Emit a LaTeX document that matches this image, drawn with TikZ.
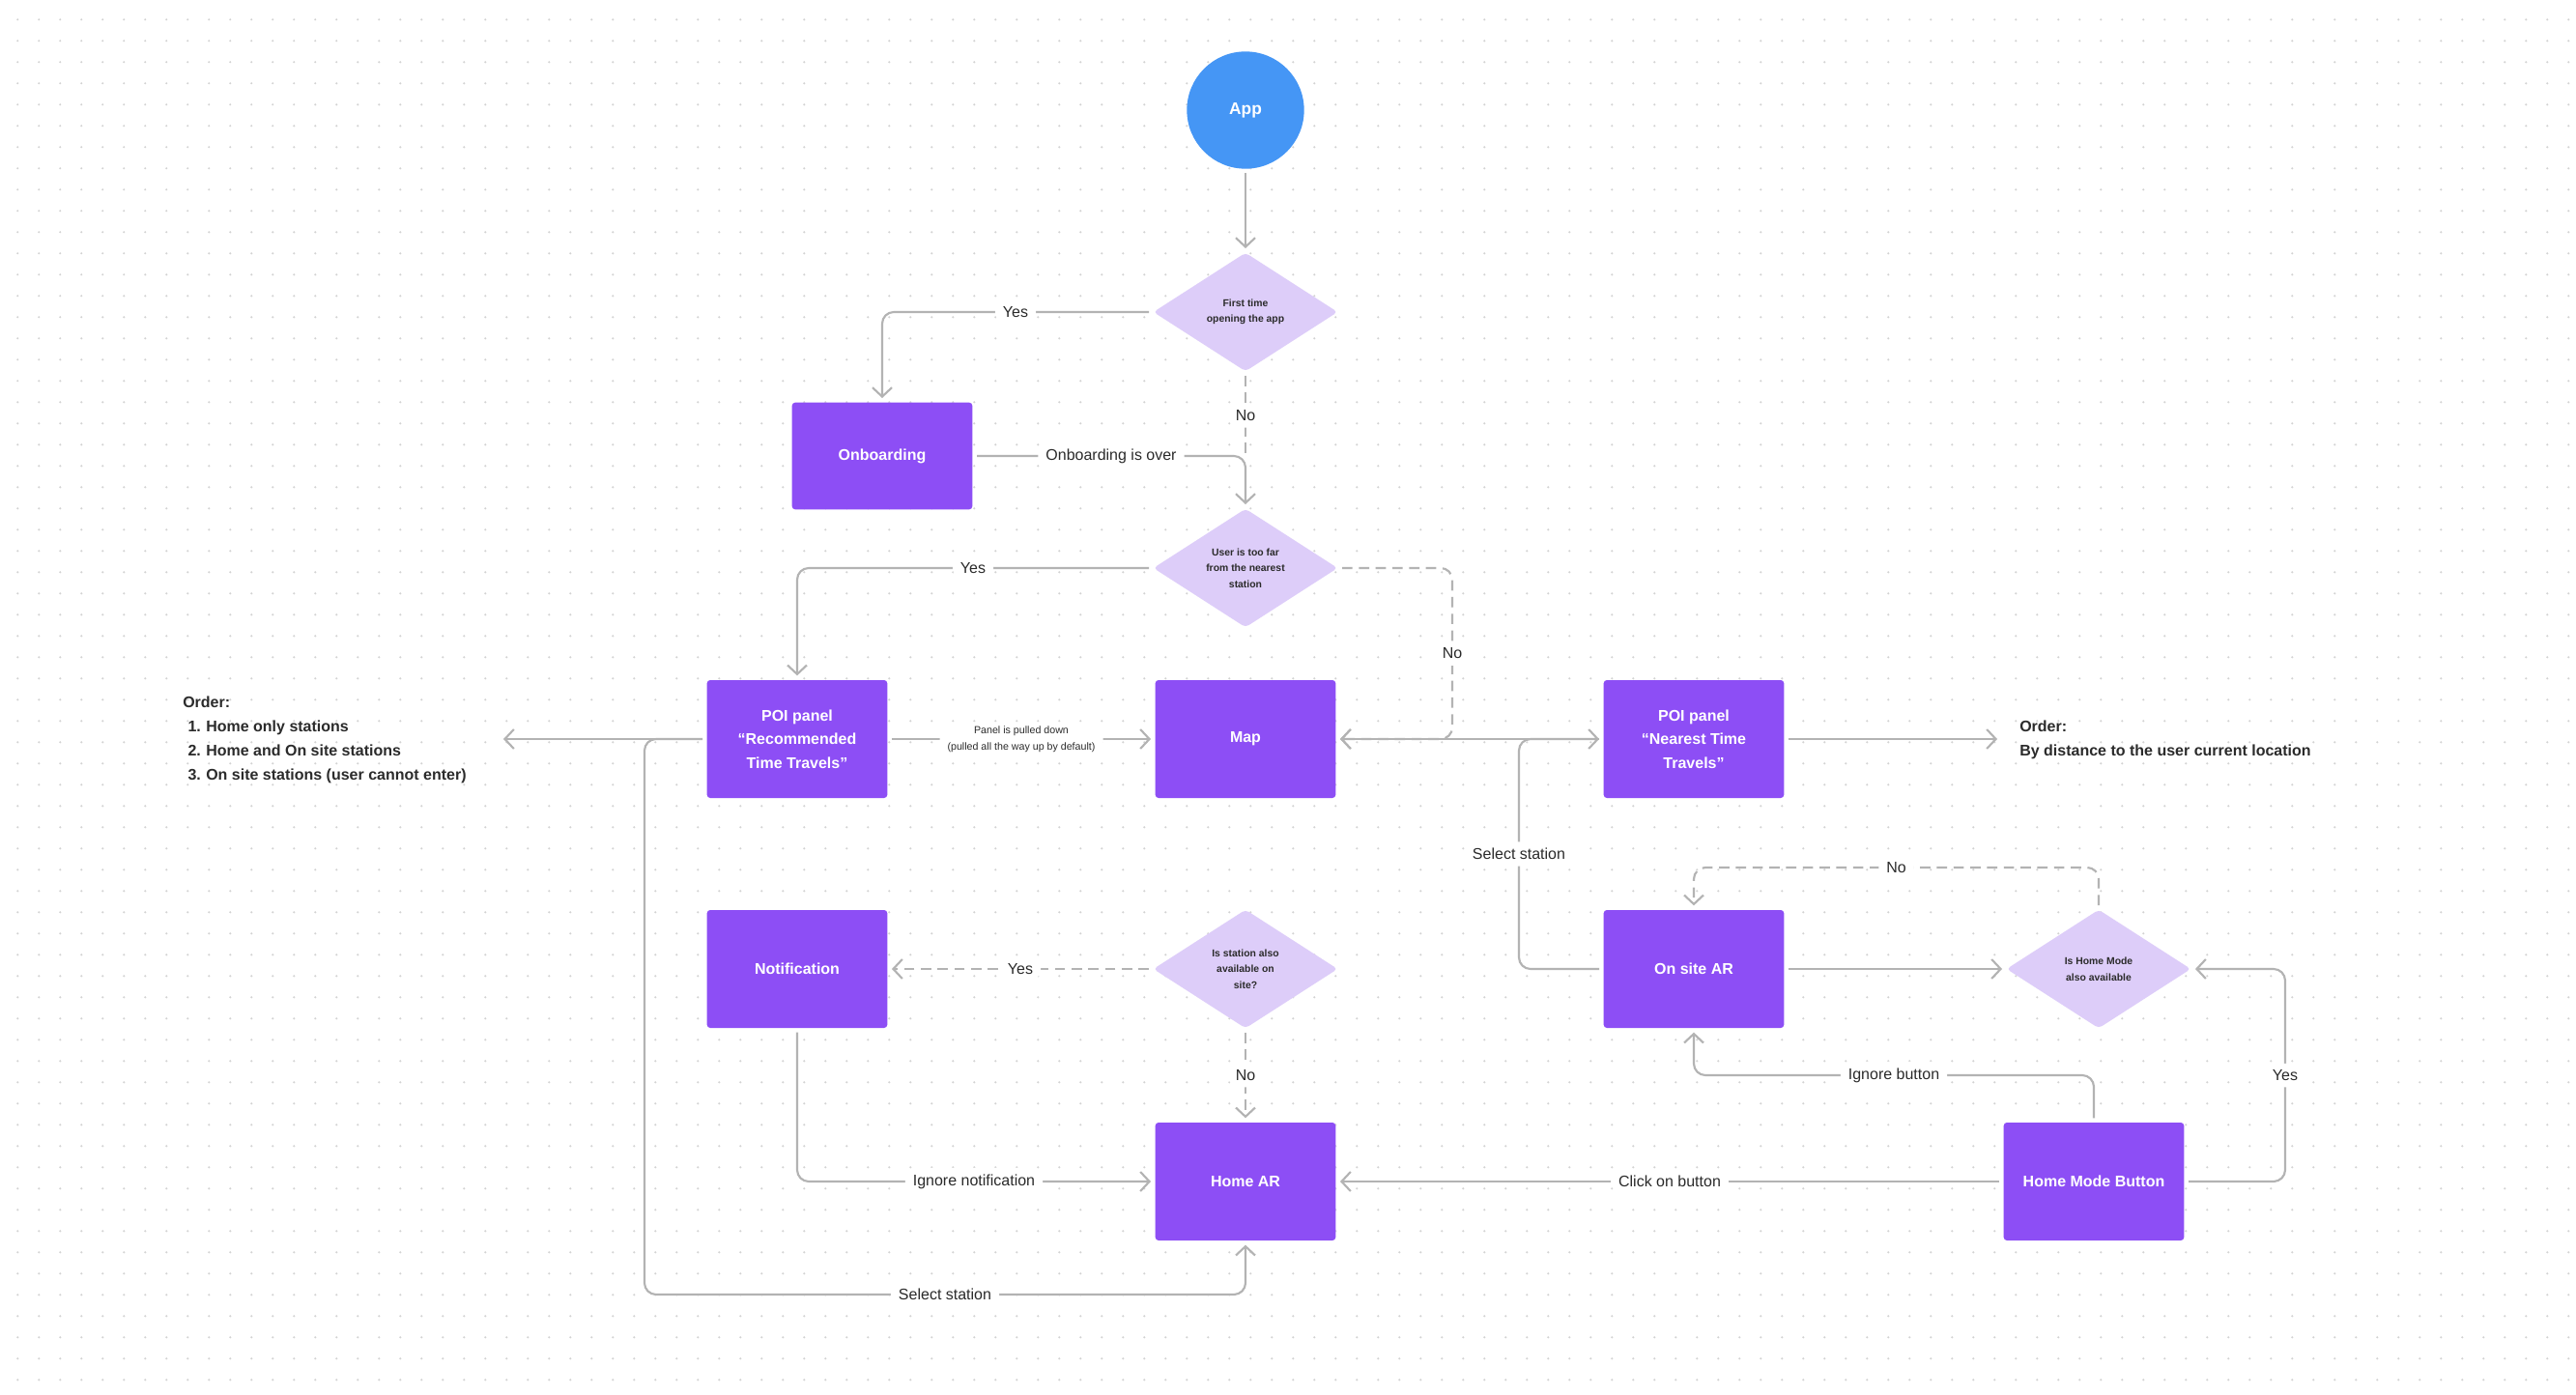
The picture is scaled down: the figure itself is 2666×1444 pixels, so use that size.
\documentclass[tikz,border=0pt]{standalone}
\usepackage{fontspec}
\setmainfont{Liberation Sans}
\usetikzlibrary{arrows.meta,shapes.geometric}
\definecolor{appblue}{HTML}{4596F5}
\definecolor{boxpurple}{HTML}{8D4EF5}
\definecolor{diafill}{HTML}{DDCDF9}
\definecolor{linegray}{HTML}{B3B3B3}
\definecolor{txtdark}{HTML}{2B2B2B}
\definecolor{dotgray}{HTML}{D2D2D2}
\begin{document}
\begin{tikzpicture}[x=0.75pt,y=-0.75pt,
  box/.style={rectangle, rounded corners=2.5pt, fill=boxpurple, text=white,
    font=\bfseries\fontsize{12}{18.5}\selectfont, align=center,
    minimum width=140pt, minimum height=91.5pt, outer sep=3.5pt, inner sep=0pt},
  dia/.style={diamond, fill=diafill, text=txtdark,
    font=\bfseries\fontsize{7.8}{12.5}\selectfont, align=center,
    minimum width=145pt, minimum height=94pt, inner sep=0pt, outer sep=2.5pt,
    rounded corners=3pt},
  conn/.style={draw=linegray, line width=1.6pt, rounded corners=9pt,
    -{Straight Barb[length=7pt,width=15pt]}},
  plain/.style={draw=linegray, line width=1.6pt, rounded corners=9pt},
  dsh/.style={dash pattern=on 8pt off 5pt},
  lbl/.style={fill=white, text=txtdark, font=\fontsize{12}{14}\selectfont,
    inner xsep=6pt, inner ysep=5pt},
  smalllbl/.style={fill=white, text=txtdark, font=\fontsize{8}{12.5}\selectfont,
    align=center, inner xsep=6pt, inner ysep=3pt},
  ordtxt/.style={text=txtdark, font=\bfseries\fontsize{12}{18.75}\selectfont,
    align=left, inner sep=0pt}
]
% background
\fill[white] (0,0) rectangle (2666,1444);
\useasboundingbox (0,0) rectangle (2666,1444);
\foreach \j in {0,...,64} {
  \fill[dotgray] \foreach \i in {0,...,120} {(18.3+22*\i,20.3+22*\j) circle[radius=1.15]};
}

% nodes
\node[circle, fill=appblue, text=white, font=\bfseries\fontsize{13}{15}\selectfont,
  minimum size=91pt, inner sep=0pt, outer sep=3.5pt] (app) at (1289,114) {App};
\node[dia] (d1) at (1289,323) {First time\\opening the app};
\node[box, minimum height=83pt] (onb) at (913,472) {Onboarding};
\node[dia] (d2) at (1289,588) {User is too far\\from the nearest\\station};
\node[box] (poiR) at (825,765) {POI panel\\“Recommended\\Time Travels”};
\node[box] (map) at (1289,765) {Map};
\node[box] (poiN) at (1753,765) {POI panel\\“Nearest Time\\Travels”};
\node[box] (notif) at (825,1003) {Notification};
\node[dia] (d3) at (1289,1003) {Is station also\\available on\\site?};
\node[box] (onsite) at (1753,1003) {On site AR};
\node[dia] (d4) at (2172,1003) {Is Home Mode\\also available};
\node[box] (homeAR) at (1289,1223) {Home AR};
\node[box] (hmb) at (2167,1223) {Home Mode Button};

\node[ordtxt, anchor=west] (ordL) at (189,766) {Order:\\\hspace*{4pt}1.\hspace*{4pt}Home only stations\\\hspace*{4pt}2.\hspace*{4pt}Home and On site stations\\\hspace*{4pt}3.\hspace*{4pt}On site stations (user cannot enter)};
\node[ordtxt, anchor=west] (ordR) at (2090,766) {Order:\\By distance to the user current location};
\coordinate (ordLtip) at (521,765);
\coordinate (ordRtip) at (2067,765);

% connectors
\draw[conn] (app) -- (d1);
\draw[conn] (d1.west) -- node[lbl]{Yes} (d1.west -| onb.north) -- (onb.north);
\draw[plain, dsh] (d1.south) -- node[lbl]{No} (d1.south |- onb.east);
\draw[conn] (onb.east) -- node[lbl]{Onboarding is over} (onb.east -| d2.north) -- (d2.north);
\draw[conn] (d2.west) -- node[lbl]{Yes} (d2.west -| poiR.north) -- (poiR.north);
\draw[conn, dsh] (d2.east) -- (1503,588) -- node[lbl]{No} (1503,765) -- (map.east);
\draw[conn] (poiN.west) -- (map.east);
\draw[conn] (onsite.west) -- (1572,1003) -- node[lbl]{Select station} (1572,765) -- (poiN.west);
\draw[conn] (poiR.east) -- node[smalllbl]{Panel is pulled down\\(pulled all the way up by default)} (map.west);
\draw[conn] (poiR.west) -- (ordLtip);
\draw[conn] (poiR.west) -- (667,765) -- (667,1340) -- node[lbl]{Select station} (1289,1340) -- (homeAR.south);
\draw[conn] (poiN.east) -- (ordRtip);
\draw[conn, dsh] (d3.west) -- node[lbl]{Yes} (notif.east);
\draw[conn, dsh] (d3.south) -- node[lbl]{No} (homeAR.north);
\draw[conn] (notif.south) -- (notif.south |- homeAR.west) -- node[lbl]{Ignore notification} (homeAR.west);
\draw[conn] (onsite.east) -- (d4.west);
\draw[conn, dsh] (d4.north) -- (2172,898) -- node[lbl]{No} (1753,898) -- (onsite.north);
\draw[conn] (hmb.east) -- (2365,1223) -- node[lbl]{Yes} (2365,1003) -- (d4.east);
\draw[conn] (hmb.north) -- (2167,1113) -- node[lbl]{Ignore button} (1753,1113) -- (onsite.south);
\draw[conn] (hmb.west) -- node[lbl]{Click on button} (homeAR.east);
\end{tikzpicture}
\end{document}
